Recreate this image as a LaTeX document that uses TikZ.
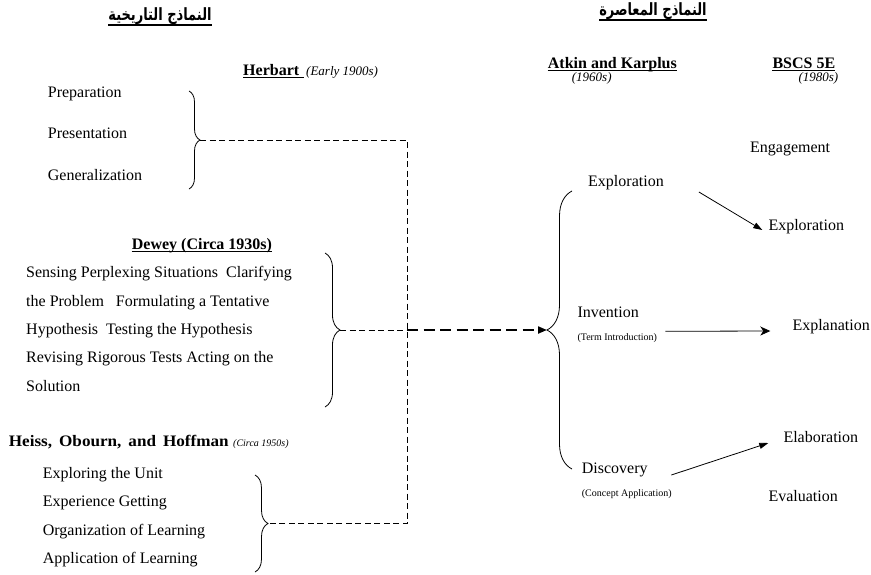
\documentclass[tikz,border=0pt]{standalone}
\usepackage{graphicx}
\usepackage{fontspec}
\setmainfont{Liberation Serif}
\newfontfamily\arabicfont[Script=Arabic]{DejaVu Sans}
\TeXXeTstate=1
\usetikzlibrary{decorations.pathreplacing,arrows.meta,calc}
\begin{document}
\begin{tikzpicture}[x=1pt,y=-1pt,
  item/.style={inner sep=0pt, anchor=west, font=\fontsize{16}{18}\selectfont, text height=11pt, text depth=3.5pt},
  hdr/.style={inner sep=0pt, anchor=base west, font=\fontsize{16}{18}\selectfont\bfseries},
  yr/.style={inner sep=0pt, anchor=base west, font=\fontsize{13}{15}\selectfont\itshape},
  yrs/.style={inner sep=0pt, anchor=base west, font=\fontsize{10}{12}\selectfont\itshape},
  small/.style={inner sep=0pt, anchor=west, font=\fontsize{10}{12}\selectfont, text height=7pt, text depth=2.2pt},
  artitle/.style={inner sep=0pt, anchor=base, font=\arabicfont\bfseries\fontsize{13}{15}\selectfont},
  ul/.style={line width=1.1pt},
  ula/.style={line width=1.8pt},
  brc/.style={decorate, line width=0.8pt},
  thindash/.style={line width=0.8pt, dash pattern=on 6pt off 3.5pt},
  thickdash/.style={line width=2pt, dash pattern=on 11pt off 5.5pt},
  arr/.style={line width=0.8pt, -{Triangle[length=9pt,width=6pt]}},
  arrS/.style={line width=0.8pt, -{Stealth[length=10pt,width=9pt,inset=3pt]}}
]
\useasboundingbox (0,0) rectangle (871,574);

% Arabic titles
\node[artitle] (tl) at (160,20) {\scalebox{1}[1.3]{\beginR النماذج التاريخية\endR}};
\draw[ula] ([yshift=-5pt]tl.base west) -- ([yshift=-5pt]tl.base east);
\node[artitle] (tr) at (653,15) {\scalebox{1}[1.3]{\beginR النماذج المعاصرة\endR}};
\draw[ula] ([yshift=-5pt]tr.base west) -- ([yshift=-5pt]tr.base east);

% Herbart
\node[hdr] (herb) at (243,75) {Herbart\kern5pt};
\draw[ul] ([yshift=-2.5pt]herb.base west) -- ([yshift=-2.5pt]herb.base east);
\node[yr] (herby) at (306,75) {(Early 1900s)};
\node[item] (prep) at (47.7,94) {Preparation};
\node[item] (pres) at (47.7,135) {Presentation};
\node[item] (gen) at (47.7,177) {Generalization};

% Dewey
\node[hdr] (dew) at (131.7,249.3) {Dewey (Circa 1930s)};
\draw[ul] ([yshift=-2.5pt]dew.base west) -- ([yshift=-2.5pt]dew.base east);
\node[item] (d1) at (26,274) {Sensing Perplexing Situations\ \ Clarifying};
\node[item] (d2) at (26,302.4) {the Problem\ \ \ Formulating a Tentative};
\node[item] (d3) at (26,330.8) {Hypothesis\ \ Testing the Hypothesis};
\node[item] (d4) at (26,359.2) {Revising Rigorous Tests Acting on the};
\node[item] (d5) at (26,387.6) {Solution};

% Heiss
\node[hdr] (heiss) at (8.7,446.7) {\scalebox{1.07}[1]{Heiss,}\hspace{7pt}\scalebox{1.07}[1]{Obourn,}\hspace{7pt}\scalebox{1.07}[1]{and}\hspace{7pt}\scalebox{1.07}[1]{Hoffman}};
\node[yrs] (heissy) at (233,446.7) {(Circa 1950s)};
\node[item] (h1) at (42.7,475) {Exploring the Unit};
\node[item] (h2) at (42.7,503) {Experience Getting};
\node[item] (h3) at (42.7,531.5) {Organization of Learning};
\node[item] (h4) at (42.7,560) {Application of Learning};

% Atkin and Karplus
\node[hdr] (atk) at (547.7,68.3) {Atkin and Karplus};
\draw[ul] ([yshift=-2.5pt]atk.base west) -- ([yshift=-2.5pt]atk.base east);
\node[yr] (atky) at (571.7,81.7) {(1960s)};
\node[item] (expA) at (588,183) {Exploration};
\node[item] (inv) at (577.3,314) {Invention};
\node[small] (term) at (577.3,338.3) {(Term Introduction)};
\node[item] (disc) at (581.7,470) {Discovery};
\node[small] (conc) at (581.7,494.3) {(Concept Application)};

% BSCS 5E
\node[hdr] (bscs) at (772.3,68.3) {BSCS 5E};
\draw[ul] ([yshift=-2.5pt]bscs.base west) -- ([yshift=-2.5pt]bscs.base east);
\node[yr] (bscsy) at (798.3,81.7) {(1980s)};
\node[item] (eng) at (750,149) {Engagement};
\node[item] (expB) at (768.3,227) {Exploration};
\node[item] (expl) at (792.3,327) {Explanation};
\node[item] (elab) at (783.3,439) {Elaboration};
\node[item] (eval) at (768.3,497.3) {Evaluation};

% braces
\coordinate (hT) at (189,91);  \coordinate (hB) at (189,189);  \coordinate (hP) at (200,140);
\coordinate (dT) at (325,253); \coordinate (dB) at (325,407);  \coordinate (dP) at (340,330);
\coordinate (oT) at (255,475); \coordinate (oB) at (255,572);  \coordinate (oP) at (268,523.5);
\coordinate (bT) at (572,191); \coordinate (bB) at (572,469);  \coordinate (bP) at (547,330);
\draw[brc, decoration={brace, amplitude=11pt}] (hT) -- (hB);
\draw[brc, decoration={brace, amplitude=15pt}] (dT) -- (dB);
\draw[brc, decoration={brace, amplitude=13pt}] (oT) -- (oB);
\draw[brc, decoration={brace, amplitude=25pt}] (bB) -- (bT);

% dashed connectors
\coordinate (j1) at (407,140);
\coordinate (jd) at (407,330);
\coordinate (j2) at (407,523.5);
\draw[thindash] (hP) -- (j1) -- (j2) -- (oP);
\draw[thindash] (dP) -- (jd);
\draw[thickdash, -{Triangle[length=9pt,width=7pt]}] (jd) -- (bP);

% arrows
\draw[arr] ($(expA.east)+(35,9)$) -- ($(expB.west)+(-6,3)$);
\draw[arrS] ($(term.east)+(8,-7)$) -- ($(expl.west)+(-22,4)$);
\draw[arr] ($(disc.east)+(23.5,5)$) -- ($(elab.west)+(-15,4)$);
\end{tikzpicture}
\end{document}
